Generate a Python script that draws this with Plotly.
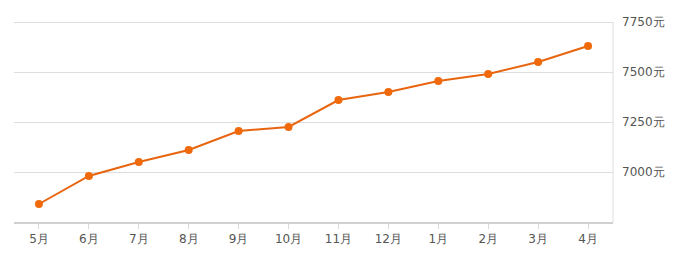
import plotly.graph_objects as go

months = ["5月", "6月", "7月", "8月", "9月", "10月", "11月", "12月", "1月", "2月", "3月", "4月"]
prices = [6840, 6980, 7050, 7110, 7205, 7225, 7360, 7400, 7455, 7490, 7550, 7630]
y_ticks = [7000, 7250, 7500, 7750]
y_tick_text = [f"{v}元" for v in y_ticks]

fig = go.Figure()
fig.add_trace(go.Scatter(
    x=months, y=prices, mode="lines+markers",
    line=dict(color="#e8650f", width=2),
    marker=dict(color="#f06a0c", size=8),
    hoverinfo="skip", cliponaxis=False,
))

fig.update_layout(
    width=683, height=257,
    margin=dict(l=14, r=70, t=19, b=35),
    paper_bgcolor="white", plot_bgcolor="white",
    showlegend=False,
    font=dict(family="DejaVu Sans, sans-serif", size=12, color="#666"),
    xaxis=dict(
        type="category", range=[-0.5, 11.5],
        showgrid=False, showline=True, linecolor="#d0d0d0", linewidth=2,
        ticks="outside", ticklen=5, tickcolor="#d8d8d8", tickwidth=1,
        tickfont=dict(size=12, color="#555"),
        zeroline=False, fixedrange=True,
    ),
    yaxis=dict(
        side="right", range=[6750, 7765],
        tickvals=y_ticks, ticktext=y_tick_text,
        showgrid=True, gridcolor="#dddddd", gridwidth=1,
        showline=False,
        ticks="", ticklabelstandoff=8,
        tickfont=dict(size=12, color="#555"),
        zeroline=False, fixedrange=True,
    ),
)

# right border of the plotting area (from lowest to highest tick)
fig.add_shape(type="line", xref="paper", yref="y", x0=1, x1=1,
              y0=6750, y1=y_ticks[-1], line=dict(color="#dddddd", width=1))

fig.write_html("out.html")
